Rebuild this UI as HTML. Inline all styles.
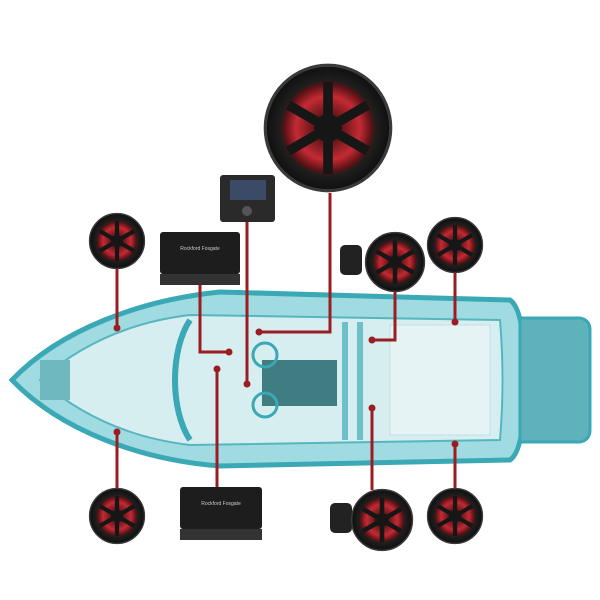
<!DOCTYPE html>
<html><head><style>body{margin:0;background:#fff}svg{display:block}</style></head><body>
<svg width="600" height="600" viewBox="0 0 600 600" xmlns="http://www.w3.org/2000/svg">
<defs>
<radialGradient id="spk" cx="50%" cy="50%" r="50%">
<stop offset="0" stop-color="#1a0606"/><stop offset="0.5" stop-color="#c42a33"/><stop offset="0.68" stop-color="#5a1215"/><stop offset="0.75" stop-color="#1e1e1e"/><stop offset="1" stop-color="#0e0e0e"/></radialGradient>
<g id="sp">
<circle r="1" fill="url(#spk)"/>
<g stroke="#161616" stroke-width="0.15">
<line x1="0" y1="-0.72" x2="0" y2="0.72"/><line x1="-0.62" y1="-0.36" x2="0.62" y2="0.36"/><line x1="-0.62" y1="0.36" x2="0.62" y2="-0.36"/></g>
<circle r="0.22" fill="#161616"/><circle r="0.98" fill="none" stroke="#3a3a3a" stroke-width="0.05"/>
</g>
</defs>
<path d="M12 380 C60 330 140 300 220 292 L510 300 Q525 310 525 380 Q525 450 510 460 L220 466 C140 460 60 430 12 380Z" fill="#9fdbe0" stroke="#3aa8b5" stroke-width="5"/>
<path d="M520 318 L580 318 Q590 320 590 330 L590 430 Q590 440 580 442 L520 442Z" fill="#5fb2bc" stroke="#3aa8b5" stroke-width="3"/>
<path d="M40 380 C80 345 130 322 190 315 L500 320 Q505 380 500 440 L190 445 C130 438 80 415 40 380Z" fill="#d6eef0" stroke="#56b6c0" stroke-width="2"/>
<path d="M190 320 C170 350 170 410 190 440" fill="none" stroke="#3aa8b5" stroke-width="6"/>
<path d="M345 322 L345 440 M360 322 L360 440" stroke="#6cc1c9" stroke-width="6"/>
<rect x="262" y="360" width="75" height="46" fill="#3f7d82"/>
<rect x="390" y="325" width="100" height="110" fill="#e6f3f4" stroke="#bfe0e2"/>
<rect x="40" y="360" width="30" height="40" fill="#6fb8c0"/>
<circle cx="265" cy="355" r="12" fill="none" stroke="#3aa8b5" stroke-width="3"/>
<circle cx="265" cy="405" r="12" fill="none" stroke="#3aa8b5" stroke-width="3"/>
<g stroke="#9b1c22" stroke-width="3" fill="none">
<path d="M117 268 V328"/><path d="M117 488 V432"/><path d="M455 273 V322"/><path d="M455 488 V444"/>
<path d="M330 193 V332 H259"/><path d="M247 222 V384"/><path d="M200 285 V352 H229"/>
<path d="M395 290 V340 H372"/><path d="M372 490 V408"/><path d="M217 487 V369"/>
</g>
<g fill="#9b1c22"><circle cx="117" cy="328" r="3.5"/><circle cx="117" cy="432" r="3.5"/><circle cx="455" cy="322" r="3.5"/><circle cx="455" cy="444" r="3.5"/><circle cx="259" cy="332" r="3.5"/><circle cx="247" cy="384" r="3.5"/><circle cx="229" cy="352" r="3.5"/><circle cx="372" cy="340" r="3.5"/><circle cx="372" cy="408" r="3.5"/><circle cx="217" cy="369" r="3.5"/></g>
<use href="#sp" transform="translate(328,128) scale(64)"/>
<use href="#sp" transform="translate(117,241) scale(28)"/>
<use href="#sp" transform="translate(117,516) scale(28)"/>
<use href="#sp" transform="translate(455,245) scale(28)"/>
<use href="#sp" transform="translate(455,516) scale(28)"/>
<rect x="340" y="245" width="22" height="30" rx="5" fill="#222"/>
<use href="#sp" transform="translate(395,262) scale(30)"/>
<rect x="330" y="503" width="22" height="30" rx="5" fill="#222"/>
<use href="#sp" transform="translate(382,520) scale(31)"/>
<rect x="220" y="175" width="55" height="47" rx="3" fill="#2a2a2a"/>
<rect x="230" y="180" width="36" height="20" fill="#3b4a66"/>
<circle cx="247" cy="211" r="5" fill="#555"/>
<rect x="160" y="232" width="80" height="42" rx="3" fill="#1d1d1d"/>
<rect x="160" y="274" width="80" height="11" fill="#333"/>
<text x="200" y="250" text-anchor="middle" font-family="Liberation Sans, sans-serif" font-size="5" fill="#ccc">Rockford Fosgate</text>
<rect x="180" y="487" width="82" height="42" rx="3" fill="#1d1d1d"/>
<rect x="180" y="529" width="82" height="11" fill="#333"/>
<text x="221" y="505" text-anchor="middle" font-family="Liberation Sans, sans-serif" font-size="5" fill="#ccc">Rockford Fosgate</text>
</svg>
</body></html>
